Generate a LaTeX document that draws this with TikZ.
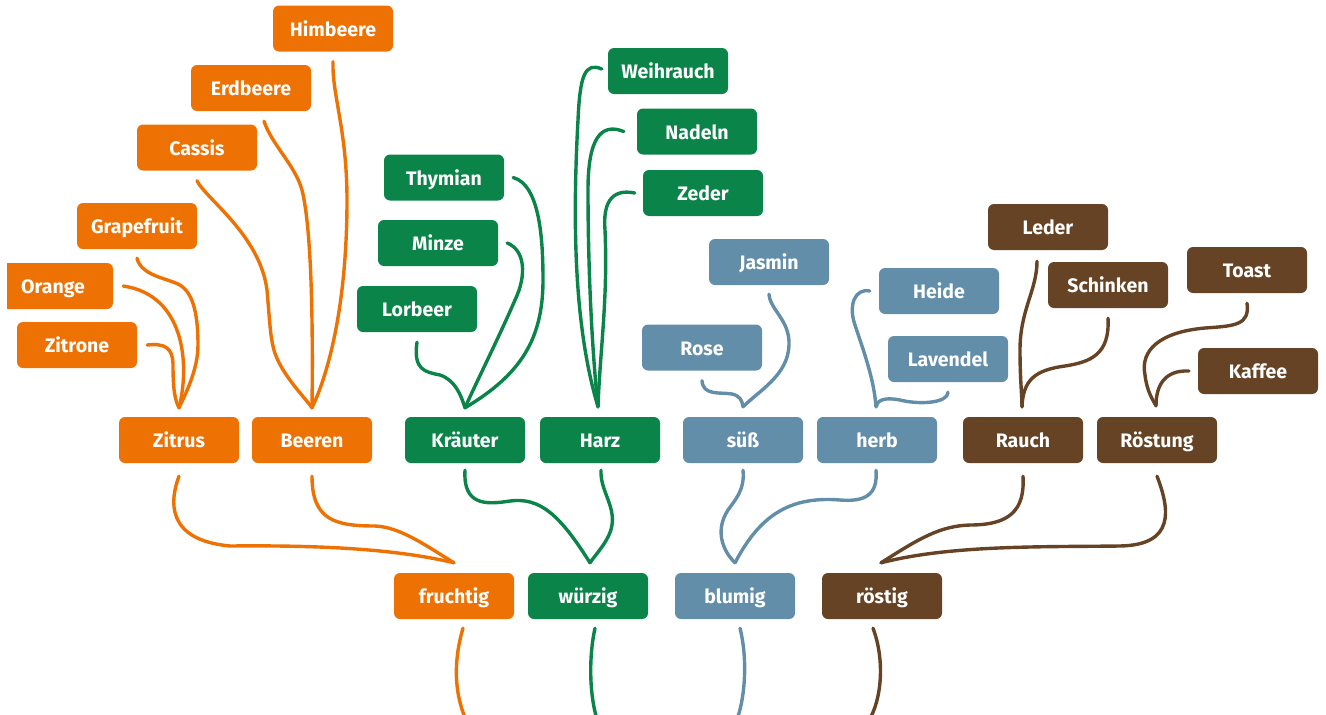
\documentclass[tikz,border=0pt]{standalone}
\usepackage{fontspec}
\setmainfont{Fira Sans}
\usetikzlibrary{calc}
\definecolor{cOr}{RGB}{238,114,3}
\definecolor{cGr}{RGB}{11,132,73}
\definecolor{cBl}{RGB}{98,142,169}
\definecolor{cBr}{RGB}{101,67,36}
\begin{document}
\begin{tikzpicture}[x=1pt,y=-1pt,
  box/.style={rounded corners=6pt, minimum width=120pt, minimum height=46pt,
    inner sep=0pt, text=white, text height=18pt, text depth=3pt,
    font=\bfseries\fontsize{19.5}{21}\selectfont},
  ob/.style={box, fill=cOr},
  gb/.style={box, fill=cGr},
  bb/.style={box, fill=cBl},
  rb/.style={box, fill=cBr},
  ln/.style={line width=3.4pt, line cap=round, line join=round},
  ol/.style={ln, draw=cOr},
  gl/.style={ln, draw=cGr},
  bl/.style={ln, draw=cBl},
  rl/.style={ln, draw=cBr}]
\useasboundingbox (0,0) rectangle (1326,715);
\begin{scope}
\clip (7,0) rectangle (1326,715);
% category row
\node[ob] (zitrus)   at (179,440) {Zitrus};
\node[ob] (beeren)   at (312,440) {Beeren};
\node[gb] (kraeuter) at (465,440) {Kräuter};
\node[gb] (harz)     at (600,440) {Harz};
\node[bb] (suess)    at (743,440) {süß};
\node[bb] (herb)     at (877,440) {herb};
\node[rb] (rauch)    at (1023,440) {Rauch};
\node[rb] (roestung) at (1157,440) {Röstung};
% base row
\node[ob] (fruchtig) at (454,596) {fruchtig};
\node[gb] (wuerzig)  at (588,596) {würzig};
\node[bb] (blumig)   at (735,596) {blumig};
\node[rb] (roestig)  at (882,596) {röstig};
% leaves
\node[ob] (himbeere)   at (333,28.5) {Himbeere};
\node[ob] (erdbeere)   at (251,88) {Erdbeere};
\node[ob] (cassis)     at (197,147.5) {Cassis};
\node[ob] (grapefruit) at (137,226) {Grapefruit};
\node[ob] (orange)     at (53,286) {Orange};
\node[ob] (zitrone)    at (77,345) {Zitrone};
\node[gb] (thymian)    at (444,177.5) {Thymian};
\node[gb] (minze)      at (438,243) {Minze};
\node[gb] (lorbeer)    at (417,309) {Lorbeer};
\node[gb] (weihrauch)  at (668,71) {Weihrauch};
\node[gb] (nadeln)     at (697,131.5) {Nadeln};
\node[gb] (zeder)      at (703,193) {Zeder};
\node[bb] (jasmin)     at (769,262) {Jasmin};
\node[bb] (rose)       at (702,347.5) {Rose};
\node[bb] (heide)      at (939,291) {Heide};
\node[bb] (lavendel)   at (948,359) {Lavendel};
\node[rb] (leder)      at (1048,227) {Leder};
\node[rb] (schinken)   at (1108,285) {Schinken};
\node[rb] (toast)      at (1247,270) {Toast};
\node[rb] (kaffee)     at (1258,371) {Kaffee};
% fruchtig family
\draw[ol] ([xshift=10pt]zitrone.east) .. controls (165,343) and (173,348) .. (173,365) .. controls (173,390) and (175,400) .. ([yshift=9pt]zitrus.north);
\draw[ol] ([xshift=10pt]orange.east) .. controls (185,295) and (190,365) .. ([yshift=9pt]zitrus.north);
\draw[ol] ([yshift=-9pt]grapefruit.south) .. controls (141,275) and (165,278) .. (178,284) .. controls (195,292) and (198,320) .. (198,345) .. controls (198,370) and (185,395) .. ([yshift=9pt]zitrus.north);
\draw[ol] ([yshift=-10pt]cassis.south) .. controls (205,198) and (260,235) .. (267,290) .. controls (271,335) and (270,348) .. (282,368) .. controls (292,385) and (305,398) .. ([yshift=9pt]beeren.north);
\draw[ol] ([xshift=13pt,yshift=-10pt]erdbeere.south) .. controls (272,145) and (295,165) .. (302,190) .. controls (312,230) and (313,330) .. ([yshift=9pt]beeren.north);
\draw[ol] ([yshift=-10pt]himbeere.south) .. controls (332,95) and (347,130) .. (347,200) .. controls (347,300) and (330,370) .. ([yshift=9pt]beeren.north);
\draw[ol] ([yshift=-13pt]zitrus.south) .. controls (170,500) and (165,540) .. (230,546) .. controls (330,545) and (400,550) .. ([yshift=10pt]fruchtig.north);
\draw[ol] ([yshift=-13pt]beeren.south) .. controls (312,520) and (335,526) .. (375,526) .. controls (400,527) and (425,545) .. ([yshift=10pt]fruchtig.north);
% wuerzig family
\draw[gl] ([yshift=-10pt]lorbeer.south) .. controls (413,370) and (425,372) .. (440,375) .. controls (455,380) and (461,395) .. ([yshift=9pt]kraeuter.north);
\draw[gl] ([xshift=9pt]minze.east) .. controls (525,250) and (527,275) .. (515,300) .. controls (500,335) and (475,385) .. ([yshift=9pt]kraeuter.north);
\draw[gl] ([xshift=9pt]thymian.east) .. controls (540,185) and (543,240) .. (543,280) .. controls (543,340) and (520,375) .. ([yshift=9pt]kraeuter.north);
\draw[gl] ([xshift=-6pt,yshift=2pt]weihrauch.west) .. controls (585,62) and (580,75) .. (578,120) .. controls (572,230) and (575,330) .. ([xshift=-2pt,yshift=10pt]harz.north);
\draw[gl] ([xshift=-13pt]nadeln.west) .. controls (600,122) and (588,140) .. (588,190) .. controls (588,270) and (592,350) .. ([xshift=-2pt,yshift=10pt]harz.north);
\draw[gl] ([xshift=-8pt]zeder.west) .. controls (610,188) and (603,205) .. (605,230) .. controls (608,300) and (600,350) .. ([xshift=-2pt,yshift=10pt]harz.north);
\draw[gl] ([yshift=-7pt]kraeuter.south) .. controls (463,505) and (485,505) .. (510,501) .. controls (540,497) and (560,515) .. ([xshift=2pt,yshift=10pt]wuerzig.north);
\draw[gl] ([xshift=1pt,yshift=-7pt]harz.south) .. controls (600,490) and (615,505) .. (612,525) .. controls (610,540) and (595,555) .. ([xshift=2pt,yshift=10pt]wuerzig.north);
% blumig family
\draw[bl] ([yshift=-10pt]rose.south) .. controls (703,396) and (720,392) .. (732,394) .. controls (740,396) and (742,400) .. ([yshift=10pt]suess.north);
\draw[bl] ([yshift=-9pt]jasmin.south) .. controls (770,310) and (790,320) .. (789,345) .. controls (788,375) and (760,390) .. ([yshift=10pt]suess.north);
\draw[bl] ([xshift=-9pt]heide.west) .. controls (855,288) and (848,305) .. (855,325) .. controls (865,355) and (874,380) .. ([xshift=-1pt,yshift=10pt]herb.north);
\draw[bl] ([yshift=-10pt]lavendel.south) .. controls (948,403) and (920,405) .. (900,400) .. controls (885,397) and (877,400) .. ([xshift=-1pt,yshift=10pt]herb.north);
\draw[bl] ([yshift=-7pt]suess.south) .. controls (745,490) and (735,500) .. (728,510) .. controls (715,530) and (722,550) .. ([yshift=10pt]blumig.north);
\draw[bl] ([xshift=-1pt,yshift=-7pt]herb.south) .. controls (878,495) and (865,502) .. (840,500) .. controls (790,496) and (760,515) .. ([yshift=10pt]blumig.north);
% roestig family
\draw[rl] ([xshift=-11pt,yshift=-11pt]leder.south) .. controls (1037,290) and (1020,310) .. (1020,350) .. controls (1020,380) and (1022,395) .. ([xshift=-1pt,yshift=10pt]rauch.north);
\draw[rl] ([yshift=-10pt]schinken.south) .. controls (1110,355) and (1090,362) .. (1065,366) .. controls (1035,370) and (1023,380) .. ([xshift=-1pt,yshift=10pt]rauch.north);
\draw[rl] ([yshift=-10pt]toast.south) .. controls (1250,325) and (1235,326) .. (1205,328) .. controls (1160,332) and (1140,350) .. (1145,375) .. controls (1147,392) and (1153,400) .. ([xshift=-1pt,yshift=11pt]roestung.north);
\draw[rl] ([xshift=-9pt]kaffee.west) .. controls (1165,370) and (1156,385) .. ([xshift=-1pt,yshift=11pt]roestung.north);
\draw[rl] ([yshift=-13pt]rauch.south) .. controls (1025,510) and (1010,525) .. (970,525) .. controls (940,526) and (920,538) .. ([xshift=-1pt,yshift=10pt]roestig.north);
\draw[rl] ([yshift=-13pt]roestung.south) .. controls (1170,510) and (1175,545) .. (1120,546) .. controls (1040,547) and (950,545) .. ([xshift=-1pt,yshift=10pt]roestig.north);
% tails
\coordinate (t1) at (467,722);
\coordinate (t2) at (598,722);
\coordinate (t3) at (736,722);
\coordinate (t4) at (868,722);
\draw[ol] ([xshift=9pt,yshift=-9pt]fruchtig.south) .. controls (455,655) and (452,690) .. (t1);
\draw[gl] ([xshift=7pt,yshift=-9pt]wuerzig.south) .. controls (588,660) and (590,700) .. (t2);
\draw[bl] ([xshift=5pt,yshift=-9pt]blumig.south) .. controls (748,660) and (745,700) .. (t3);
\draw[rl] ([xshift=-9pt,yshift=-9pt]roestig.south) .. controls (885,660) and (882,700) .. (t4);
\end{scope}
\end{tikzpicture}
\end{document}
